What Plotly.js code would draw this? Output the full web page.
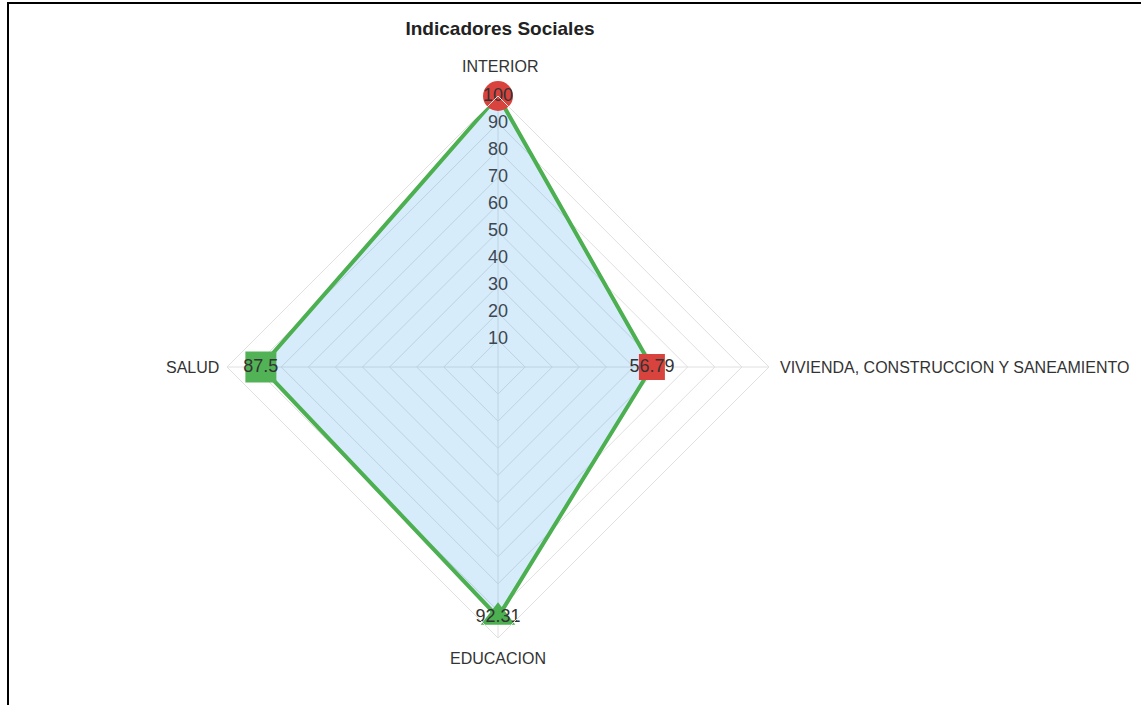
<!DOCTYPE html>
<html>
<head>
<meta charset="utf-8">
<script src="https://cdn.plot.ly/plotly-3.0.1.min.js"></script>
<style>
  html, body { margin: 0; padding: 0; background: #fff; }
  #chart { width: 1141px; height: 705px; }
</style>
</head>
<body>
<div id="chart"></div>
<script>
// Indicadores sociales por sector
const categories = ['INTERIOR', 'VIVIENDA, CONSTRUCCION Y SANEAMIENTO', 'EDUCACION', 'SALUD'];
const values = [100, 56.79, 92.31, 87.5];
const valueLabels = ['100', '56.79', '92.31', '87.5'];
const pointSymbols = ['circle', 'square', 'triangle-up', 'square'];
const pointColors = ['#d9433e', '#d9433e', '#4caf50', '#52b356'];
const pointSizes = [30, 26, 30, 31];
const radialTicks = [10, 20, 30, 40, 50, 60, 70, 80, 90];

const FONT = 'Liberation Sans, Arial, sans-serif';

const closedTheta = categories.concat([categories[0]]);
const closedR = values.concat([values[0]]);

const area = {
  type: 'scatterpolar',
  r: closedR,
  theta: closedTheta,
  mode: 'lines',
  fill: 'toself',
  fillcolor: 'rgba(54,162,235,0.2)',
  line: { color: '#4caf50', width: 4 },
  hoverinfo: 'skip',
  showlegend: false
};

// Scale labels centred on the vertical spoke
const scaleLabels = {
  type: 'scatterpolar',
  r: radialTicks,
  theta: radialTicks.map(() => categories[0]),
  mode: 'text',
  text: radialTicks.map(String),
  textposition: 'middle center',
  textfont: { family: FONT, size: 18, color: '#3d4751' },
  hoverinfo: 'skip',
  showlegend: false
};

const points = {
  type: 'scatterpolar',
  r: values,
  theta: categories,
  mode: 'markers+text',
  text: valueLabels,
  textposition: 'middle center',
  textfont: { family: FONT, size: 18, color: '#333' },
  marker: { symbol: pointSymbols, color: pointColors, size: pointSizes, opacity: 1, line: { width: 0 } },
  cliponaxis: false,
  hoverinfo: 'r+theta',
  showlegend: false
};

const W = 1141, H = 705;
const cx = 498, cy = 367, R = 271;
const px = v => v / W;
const py = v => 1 - v / H;

// Category names around the outer ring
const labelFont = { family: FONT, size: 16, color: '#333' };
const categoryLabels = [
  { text: categories[0], x: px(cx + 2), y: py(cy - R - 30), xanchor: 'center', yanchor: 'middle' },
  { text: categories[1], x: px(cx + R + 9), y: py(cy), xanchor: 'left', yanchor: 'middle' },
  { text: categories[2], x: px(cx), y: py(cy + R + 20), xanchor: 'center', yanchor: 'middle' },
  { text: categories[3], x: px(cx - R - 6), y: py(cy), xanchor: 'right', yanchor: 'middle' }
].map(a => Object.assign({ xref: 'paper', yref: 'paper', showarrow: false, font: labelFont }, a));

const layout = {
  width: W,
  height: H,
  margin: { l: 0, r: 0, t: 0, b: 0 },
  paper_bgcolor: '#fff',
  font: { family: FONT, size: 16, color: '#333' },
  title: {
    text: '<b>Indicadores Sociales</b>',
    font: { family: FONT, size: 19, color: '#222' },
    x: px(500), xref: 'paper', xanchor: 'center',
    y: py(28), yref: 'paper', yanchor: 'middle'
  },
  showlegend: false,
  polar: {
    domain: {
      x: [px(cx - R), px(cx + R)],
      y: [py(cy + R), py(cy - R)]
    },
    bgcolor: '#fff',
    gridshape: 'linear',
    radialaxis: {
      range: [0, 100],
      tickvals: [10, 20, 30, 40, 50, 60, 70, 80, 90, 100],
      showticklabels: false,
      ticks: '',
      showline: false,
      gridcolor: '#e0e0e0',
      gridwidth: 1
    },
    angularaxis: {
      type: 'category',
      categoryorder: 'array',
      categoryarray: categories,
      rotation: 90,
      direction: 'clockwise',
      showline: true,
      linecolor: '#e0e0e0',
      linewidth: 1,
      gridcolor: '#e0e0e0',
      ticks: '',
      showticklabels: false
    }
  },
  annotations: categoryLabels,
  shapes: [
    { type: 'line', xref: 'paper', yref: 'paper', x0: px(8), x1: 1, y0: py(3), y1: py(3),
      line: { color: '#000', width: 2 } },
    { type: 'line', xref: 'paper', yref: 'paper', x0: px(8), x1: px(8), y0: py(2), y1: 0,
      line: { color: '#000', width: 2 } }
  ]
};

Plotly.newPlot('chart', [area, scaleLabels, points], layout, { displayModeBar: false, staticPlot: true });
</script>
</body>
</html>
